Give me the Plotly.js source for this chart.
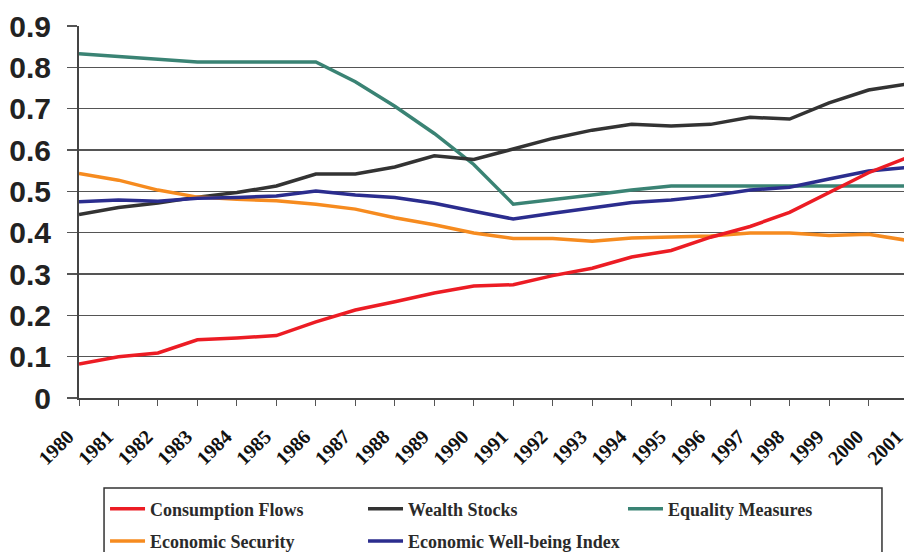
<!DOCTYPE html>
<html>
<head>
<meta charset="utf-8">
<script src="https://cdn.plot.ly/plotly-3.0.1.min.js"></script>
<style>
html, body { margin:0; padding:0; overflow:hidden; background:#fff; }
#chart { width:912px; height:580px; }
</style>
</head>
<body>
<div id="chart"></div>
<script>
const years = [1980,1981,1982,1983,1984,1985,1986,1987,1988,1989,1990,1991,1992,1993,1994,1995,1996,1997,1998,1999,2000,2001];
const consumptionFlows = [0.082,0.100,0.109,0.141,0.145,0.151,0.184,0.213,0.233,0.254,0.271,0.274,0.296,0.314,0.341,0.357,0.389,0.415,0.449,0.497,0.545,0.582];
const wealthStocks = [0.444,0.461,0.472,0.486,0.497,0.513,0.542,0.542,0.559,0.586,0.577,0.603,0.628,0.648,0.662,0.658,0.662,0.679,0.675,0.714,0.745,0.760];
const equalityMeasures = [0.833,0.827,0.820,0.813,0.813,0.813,0.813,0.765,0.706,0.640,0.565,0.469,0.479,0.491,0.503,0.513,0.513,0.513,0.513,0.513,0.513,0.513];
const economicSecurity = [0.543,0.527,0.503,0.486,0.481,0.477,0.469,0.457,0.436,0.419,0.399,0.386,0.386,0.379,0.387,0.390,0.392,0.399,0.399,0.393,0.396,0.381];
const wellbeingIndex = [0.475,0.479,0.476,0.483,0.485,0.489,0.501,0.491,0.485,0.471,0.452,0.433,0.447,0.460,0.473,0.479,0.489,0.503,0.510,0.530,0.549,0.558];
const yTicks = [0,0.1,0.2,0.3,0.4,0.5,0.6,0.7,0.8,0.9];
const yTickText = ['0','0.1','0.2','0.3','0.4','0.5','0.6','0.7','0.8','0.9'];

const serif = 'Liberation Serif, Times New Roman, serif';
const sans = 'Liberation Sans, Arial, sans-serif';

function tr(name, y, color, legend, rank) {
  return {x: years, y: y, name: name, type: 'scatter', mode: 'lines',
    line: {color: color, width: 3.5}, legend: legend, legendgroup: name, legendrank: rank};
}
const data = [
  tr('Equality Measures', equalityMeasures, '#3a8374', 'legend3', 1),
  tr('Wealth Stocks', wealthStocks, '#333333', 'legend2', 1),
  tr('Economic Security', economicSecurity, '#f68b1f', 'legend', 2),
  tr('Economic Well-being Index', wellbeingIndex, '#2b2d8e', 'legend2', 2),
  tr('Consumption Flows', consumptionFlows, '#ec1c24', 'legend', 1)
];

const legFont = {family: serif, size: 18, color: '#2a2a2a', weight: 'bold'};
function leg(x) {
  return {orientation: 'v', x: x, xanchor: 'left',
    y: -0.2487, yanchor: 'top', itemwidth: 35,
    tracegroupgap: 6, traceorder: 'grouped',
    bgcolor: 'rgba(0,0,0,0)', borderwidth: 0, font: legFont};
}
const layout = {
  width: 912, height: 580,
  margin: {l: 79, r: 4, t: 26, b: 182},
  paper_bgcolor: '#fff', plot_bgcolor: '#fff',
  showlegend: true,
  xaxis: {
    range: [1980, 2001], tickmode: 'array', tickvals: years, ticktext: years.map(String),
    tickangle: -45, ticks: 'outside', ticklen: 6, tickwidth: 1, tickcolor: '#555',
    showline: true, linecolor: '#444', linewidth: 2, showgrid: false, zeroline: false,
    tickfont: {family: serif, size: 20, color: '#111', weight: 'bold'},
    ticklabelstandoff: 11, ticklabelshift: -11, ticklabeloverflow: 'allow'
  },
  yaxis: {
    range: [0, 0.9], tickmode: 'array', tickvals: yTicks, ticktext: yTickText,
    ticks: 'outside', ticklen: 10, tickwidth: 1.5, tickcolor: '#555',
    showline: true, linecolor: '#444', linewidth: 2,
    showgrid: true, gridcolor: '#555', gridwidth: 1.5, zeroline: false,
    tickfont: {family: sans, size: 30, color: '#222', weight: 'bold'},
    ticklabelstandoff: 10
  },
  legend: leg(0.0314),
  legend2: leg(0.3426),
  legend3: leg(0.6562),
  shapes: [{
    type: 'rect', xref: 'paper', yref: 'paper',
    x0: 0.0302, x1: 0.9686, y0: -0.242, y1: -0.6,
    line: {color: '#333', width: 1.5}, fillcolor: 'rgba(0,0,0,0)', layer: 'below'
  }]
};
Plotly.newPlot('chart', data, layout, {displayModeBar: false, staticPlot: true});
</script>
</body>
</html>
